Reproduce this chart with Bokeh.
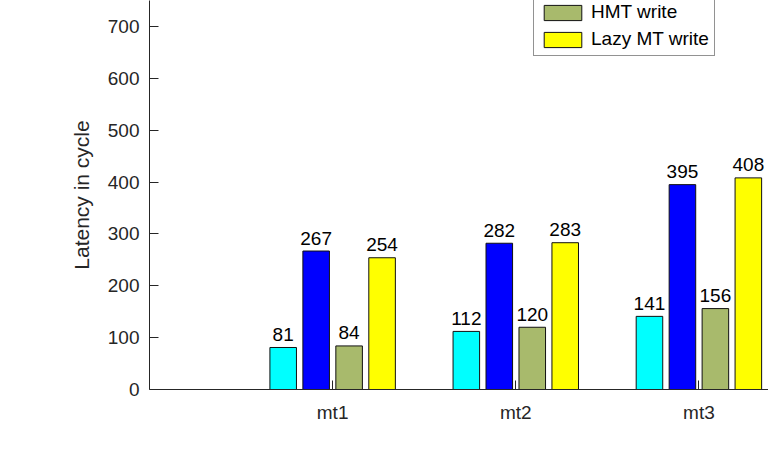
from bokeh.plotting import figure
from bokeh.models import ColumnDataSource, FixedTicker, Legend, LegendItem, Range1d
from bokeh.core.properties import value
from bokeh.embed import file_html
from bokeh.resources import INLINE

categories = ["mt1", "mt2", "mt3"]
series_names = ["HMT read", "Lazy MT read", "HMT write", "Lazy MT write"]
hmt_read = [81, 112, 141]
lazy_mt_read = [267, 282, 395]
hmt_write = [84, 120, 156]
lazy_mt_write = [254, 283, 408]
y_ticks = [0, 100, 200, 300, 400, 500, 600, 700]

series_values = [hmt_read, lazy_mt_read, hmt_write, lazy_mt_write]
colors = ["#00FFFF", "#0000FF", "#A8BA6C", "#FFFF00"]
offsets = [-0.27, -0.09, 0.09, 0.27]
bar_w = 0.145
FONT = "Liberation Sans"
AX = "#262626"

p = figure(width=768, height=443, output_backend="svg", toolbar_location=None,
           x_range=Range1d(0, 3.38), y_range=Range1d(0, 750),
           min_border_left=149, min_border_right=0, min_border_top=0,
           min_border_bottom=54)
p.outline_line_color = None
p.xgrid.visible = False
p.ygrid.visible = False
p.background_fill_color = "white"
p.border_fill_color = "white"

xs_pos = [1, 2, 3]
renderers = {}
for name, vals, col, off in zip(series_names, series_values, colors, offsets):
    src = ColumnDataSource(dict(x=[x + off for x in xs_pos], top=vals,
                                lab=[str(v) for v in vals]))
    r = p.vbar(x="x", top="top", width=bar_w, bottom=0, source=src,
               fill_color=col, line_color="#111111", line_width=1)
    renderers[name] = r
    p.text(x="x", y="top", text="lab", source=src, text_align="center",
           text_baseline="alphabetic", y_offset=-13, text_font_size="19px",
           text_font=value(FONT), text_color="black")

p.yaxis.ticker = FixedTicker(ticks=y_ticks)
p.xaxis.ticker = FixedTicker(ticks=xs_pos)
p.xaxis.major_label_overrides = {1: "mt1", 2: "mt2", 3: "mt3"}
for ax in (p.xaxis, p.yaxis):
    ax.major_tick_in = 9
    ax.major_tick_out = 0
    ax.minor_tick_line_color = None
    ax.axis_line_color = AX
    ax.major_tick_line_color = AX
    ax.major_label_text_color = AX
    ax.major_label_text_font = FONT
    ax.major_label_text_font_size = "19px"
p.yaxis.major_label_standoff = 10
p.xaxis.major_label_standoff = 12
p.yaxis.axis_label = "Latency in cycle"
p.yaxis.axis_label_text_font = FONT
p.yaxis.axis_label_text_font_size = "21px"
p.yaxis.axis_label_text_font_style = "normal"
p.yaxis.axis_label_text_color = AX
p.yaxis.axis_label_standoff = 12

shown = ["HMT write", "Lazy MT write"]
legend = Legend(items=[LegendItem(label=n, renderers=[renderers[n]]) for n in shown],
                location=(384, 333), orientation="vertical",
                glyph_width=47, glyph_height=19, label_height=19, spacing=5,
                padding=5, margin=0, label_standoff=5,
                label_text_font=FONT, label_text_font_size="19px",
                label_text_color="black", border_line_color=AX,
                border_line_width=1, background_fill_alpha=1.0)
p.add_layout(legend)

open("out.html", "w").write(file_html(p, INLINE))
